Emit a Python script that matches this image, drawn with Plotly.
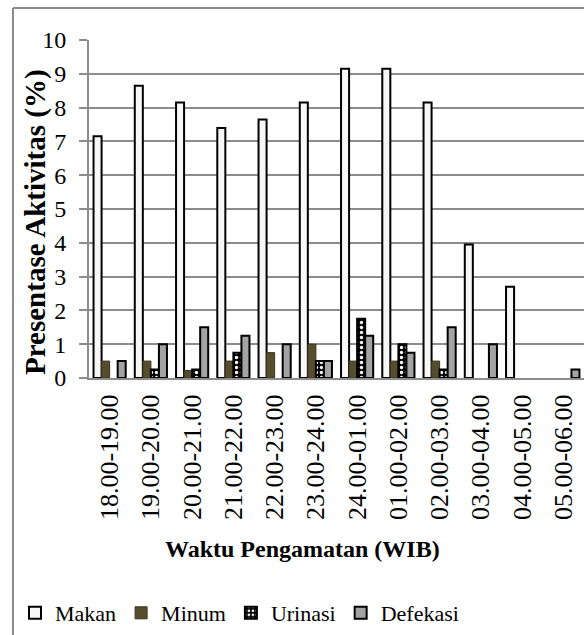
import plotly.graph_objects as go

categories = ["18.00-19.00", "19.00-20.00", "20.00-21.00", "21.00-22.00",
              "22.00-23.00", "23.00-24.00", "24.00-01.00", "01.00-02.00",
              "02.00-03.00", "03.00-04.00", "04.00-05.00", "05.00-06.00"]
makan = [7.15, 8.65, 8.15, 7.4, 7.65, 8.15, 9.15, 9.15, 8.15, 3.95, 2.7, 0]
minum = [0.5, 0.5, 0.22, 0.5, 0.75, 1.0, 0.5, 0.5, 0.5, 0, 0, 0]
urinasi = [0, 0.25, 0.25, 0.75, 0, 0.5, 1.75, 1.0, 0.25, 0, 0, 0]
defekasi = [0.5, 1.0, 1.5, 1.25, 1.0, 0.5, 1.25, 0.75, 1.5, 1.0, 0, 0.25]
y_ticks = list(range(0, 11))

W, H = 584, 635
ML, MR, MT, MB = 89, 0, 40, 257
PW = W - ML - MR
PH = H - MT - MB


def nz(v):
    return [x if x != 0 else None for x in v]


def px(x):
    return (x - ML) / PW


def py(y):
    return (H - MB - y) / PH


FONT = "Times"

fig = go.Figure()
fig.add_trace(go.Bar(name="Makan", x=categories, y=nz(makan),
                     marker=dict(color="#f7f7f7", line=dict(color="black", width=2))))
fig.add_trace(go.Bar(name="Minum", x=categories, y=nz(minum),
                     marker=dict(color="#564c2e", line=dict(color="#3b341f", width=1))))
fig.add_trace(go.Bar(name="Urinasi", x=categories, y=nz(urinasi),
                     marker=dict(color="black", line=dict(color="black", width=2),
                                 pattern=dict(shape=".", fgcolor="white", bgcolor="black",
                                              size=5, solidity=0.35, fillmode="replace"))))
fig.add_trace(go.Bar(name="Defekasi", x=categories, y=nz(defekasi),
                     marker=dict(color="#a3a3a3", line=dict(color="black", width=2))))

fig.update_layout(
    width=W, height=H,
    margin=dict(l=ML, r=MR, t=MT, b=MB, pad=0),
    paper_bgcolor="white", plot_bgcolor="white",
    barmode="group", bargap=0.22, bargroupgap=0,
    font=dict(family=FONT, color="black"),
    showlegend=True,
    legend=dict(orientation="h", x=px(15), xanchor="left", y=py(613), yanchor="middle",
                font=dict(size=22, family=FONT, color="black"), itemwidth=30,
                traceorder="normal",
                bgcolor="rgba(0,0,0,0)"),
)
fig.update_xaxes(
    type="category", tickangle=-90, tickfont=dict(size=26, family=FONT, color="black"),
    showline=True, linecolor="#8c8c8c", linewidth=2, ticks="", showgrid=False,
    ticklabelstandoff=4, range=[-0.5, 11.5],
)
fig.update_yaxes(
    range=[0, 10], tickvals=y_ticks, ticktext=[str(v) for v in y_ticks],
    tickfont=dict(size=24, family=FONT, color="black"),
    showline=True, linecolor="#8c8c8c", linewidth=2,
    ticks="outside", ticklen=8, tickcolor="#8c8c8c", tickwidth=2,
    showgrid=True, gridcolor="#8c8c8c", gridwidth=2, zeroline=False,
    ticklabelstandoff=8,
)

fig.add_annotation(text="<b>Presentase Aktivitas (%)</b>", xref="paper", yref="paper",
                   x=px(35), y=py(222), textangle=-90, showarrow=False,
                   font=dict(size=29, family=FONT, color="black"), xanchor="center", yanchor="middle")
fig.add_annotation(text="<b>Waktu Pengamatan (WIB)</b>", xref="paper", yref="paper",
                   x=px(302), y=py(549), showarrow=False,
                   font=dict(size=24, family=FONT, color="black"), xanchor="center", yanchor="middle")

fig.add_shape(type="line", xref="paper", yref="paper", x0=px(13), x1=px(13),
              y0=py(8), y1=py(H + 10), line=dict(color="#8c8c8c", width=2))
fig.add_shape(type="line", xref="paper", yref="paper", x0=px(13), x1=px(W + 10),
              y0=py(8), y1=py(8), line=dict(color="#8c8c8c", width=2))

fig.write_html("out.html")
